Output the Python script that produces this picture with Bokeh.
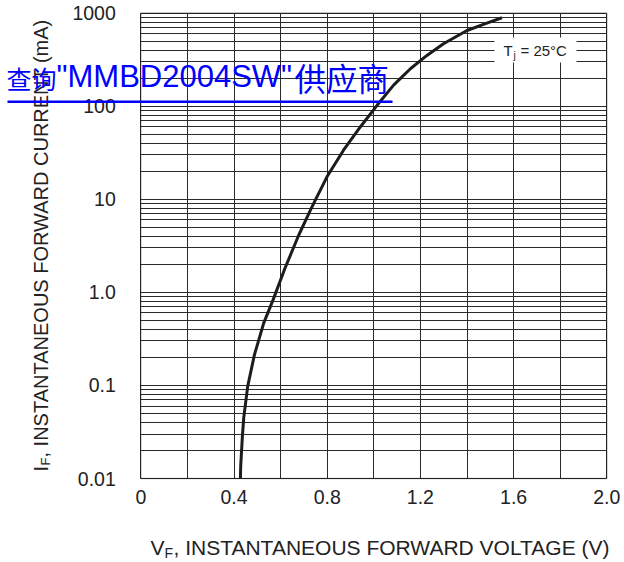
import math
from bokeh.plotting import figure
from bokeh.models import FixedTicker, CustomJSTickFormatter, Label, BoxAnnotation, Range1d
from bokeh.embed import file_html
from bokeh.resources import INLINE

# ---- data ----
vf = [0.4275, 0.4288, 0.436, 0.4417, 0.4588, 0.4876, 0.5274, 0.5677, 0.599, 0.6175,
      0.6775, 0.728, 0.749, 0.799, 0.870, 0.942, 1.014, 1.085, 1.157, 1.228,
      1.299, 1.400, 1.485, 1.550]
i_f = [0.01, 0.0136, 0.0284, 0.0448, 0.0975, 0.213, 0.467, 0.829, 1.34, 1.78,
       4.1, 7.64, 9.77, 17.4, 33.6, 59.7, 102, 168, 252, 350,
       468, 649, 778, 889]

x_ticks = [0, 0.4, 0.8, 1.2, 1.6, 2.0]
x_tick_labels = ["0", "0.4", "0.8", "1.2", "1.6", "2.0"]
x_minor = [0.2, 0.6, 1.0, 1.4, 1.8]
y_ticks = [0.01, 0.1, 1, 10, 100, 1000]
y_tick_labels = ["0.01", "0.1", "1.0", "10", "100", "1000"]
y_minor = [m * 10 ** e for e in range(-2, 3) for m in range(2, 10)]

x_label_main = "V"
x_label_sub = "F"
x_label_rest = ", INSTANTANEOUS FORWARD VOLTAGE (V)"
y_label_main = "I"
y_label_sub = "F"
y_label_rest = ", INSTANTANEOUS FORWARD CURRENT (mA)"
tj_main, tj_sub, tj_rest = "T", "j", "= 25°C"
overlay_a = "查询"
overlay_b = '"MMBD2004SW"'
overlay_c = "供应商"

FONT = "Liberation Sans"
CJK = "Noto Sans CJK SC"
INK = "#222222"
BLUE = "#0000ff"

# ---- layout: the frame fills the canvas, chart box at fixed pixels ----
W, H = 622, 560
PX_L, PX_R = 140.3, 606.3      # x = 0 and x = 2.0
PX_T, PX_B = 12.5, 478.0       # y = 1000 and y = 0.01
XMIN, XMAX = x_ticks[0], x_ticks[-1]
YMIN, YMAX = y_ticks[0], y_ticks[-1]
kx = (PX_R - PX_L) / (XMAX - XMIN)
ky = (PX_B - PX_T) / (math.log10(YMAX) - math.log10(YMIN))
x_range = Range1d(XMIN - PX_L / kx, XMAX + (W - PX_R) / kx)
y_range = Range1d(10 ** (math.log10(YMIN) - (H - PX_B) / ky),
                  10 ** (math.log10(YMAX) + PX_T / ky))

p = figure(width=W, height=H, y_axis_type="log", x_range=x_range, y_range=y_range,
           output_backend="svg", toolbar_location=None,
           min_border_left=0, min_border_right=0, min_border_top=0, min_border_bottom=0)
p.background_fill_color = "white"
p.border_fill_color = "white"
p.outline_line_color = None

p.xaxis.ticker = FixedTicker(ticks=x_ticks, minor_ticks=x_minor)
p.yaxis.ticker = FixedTicker(ticks=y_ticks, minor_ticks=y_minor)
p.xaxis.formatter = CustomJSTickFormatter(
    args=dict(t=x_ticks, l=x_tick_labels),
    code="const i = t.findIndex(v => Math.abs(v - tick) < 1e-6); return i >= 0 ? l[i] : '';")
p.yaxis.formatter = CustomJSTickFormatter(
    args=dict(t=y_ticks, l=y_tick_labels),
    code="const i = t.findIndex(v => Math.abs(Math.log10(v) - Math.log10(tick)) < 1e-6); return i >= 0 ? l[i] : '';")
p.xaxis.fixed_location = YMIN
p.yaxis.fixed_location = XMIN

for ax in (p.xaxis[0], p.yaxis[0]):
    ax.axis_line_color = None
    ax.major_tick_line_color = None
    ax.minor_tick_line_color = None
    ax.major_tick_out = 0
    ax.major_tick_in = 0
    ax.major_label_text_font = FONT
    ax.major_label_text_font_size = "19.5px"
    ax.major_label_text_color = INK
p.yaxis.major_label_standoff = 21
p.xaxis.major_label_standoff = 7

GRID = "#2a2a2a"
try:
    p.xgrid.cross_bounds = (YMIN, YMAX)
    p.ygrid.cross_bounds = (XMIN, XMAX)
    for g in (p.xgrid[0], p.ygrid[0]):
        g.grid_line_color = GRID
        g.grid_line_width = 1
        g.minor_grid_line_color = GRID
        g.minor_grid_line_width = 1
except Exception:
    p.xgrid.visible = False
    p.ygrid.visible = False
    xs = sorted(x_ticks + x_minor)
    ys = sorted(y_ticks + y_minor)
    p.segment(x0=xs, y0=[YMIN] * len(xs), x1=xs, y1=[YMAX] * len(xs),
              line_color=GRID, line_width=1)
    p.segment(x0=[XMIN] * len(ys), y0=ys, x1=[XMAX] * len(ys), y1=ys,
              line_color=GRID, line_width=1)

# chart border
p.add_layout(BoxAnnotation(left=XMIN, right=XMAX, bottom=YMIN, top=YMAX,
                           fill_alpha=0, line_color="#111111", line_width=1.5,
                           level="underlay"))

p.line(vf, i_f, line_color="#1c1c1c", line_width=3, line_join="round")

SHIFT = 0.39  # empirical offset between requested and drawn baseline (fraction of size)

def lab(text, x, y, size, angle=0.0, color=INK, font=FONT):
    """x, y = wanted baseline start in canvas pixels."""
    if angle == 0.0:
        y = y - SHIFT * size
    else:
        x = x - SHIFT * size
    p.add_layout(Label(x=x, y=y, x_units="canvas", y_units="canvas", text=text,
                       angle=angle, text_font=font, text_font_size=f"{size}px",
                       text_color=color, text_align="left",
                       text_baseline="alphabetic"))

def box(l, r, t, b, color):
    p.add_layout(BoxAnnotation(left=l, right=r, top=t, bottom=b,
                               left_units="canvas", right_units="canvas",
                               top_units="canvas", bottom_units="canvas",
                               fill_color=color, fill_alpha=1, line_color=None))

# Tj note with white box
box(494, 576, 37, 62, "white")
lab(tj_main, 503, 56, 15)
lab(tj_sub, 513, 59, 10)
lab(tj_rest, 520, 56, 15)

# x axis label
lab(x_label_main, 150, 555, 21)
lab(x_label_sub, 164, 558, 14)
lab(x_label_rest, 173, 555, 21)

# y axis label (rotated)
lab(y_label_main, 48, 471, 20, angle=math.pi / 2)
lab(y_label_sub, 50, 465, 13, angle=math.pi / 2)
lab(y_label_rest, 48, 457, 20, angle=math.pi / 2)

# blue overlay link text with underline
lab(overlay_a, 6, 87, 25, color=BLUE, font=CJK)
lab(overlay_b, 56, 88, 31, color=BLUE, font=FONT)
lab(overlay_c, 294, 89, 31.5, color=BLUE, font=CJK)
box(7, 392, 100, 102.5, BLUE)

open("out.html", "w").write(file_html(p, INLINE))
